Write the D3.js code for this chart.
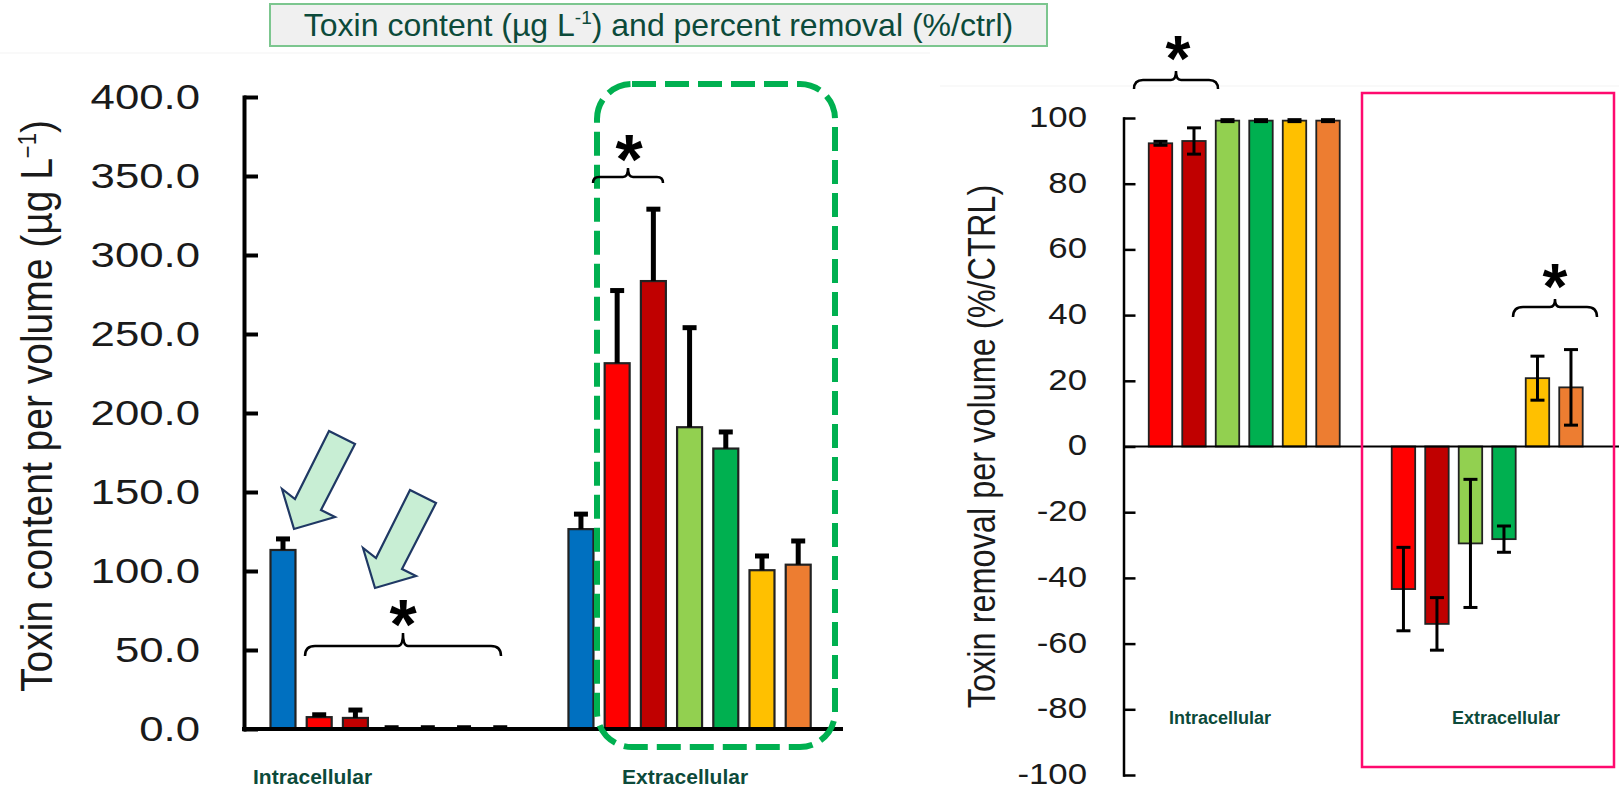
<!DOCTYPE html>
<html>
<head>
<meta charset="utf-8">
<script src="https://cdn.jsdelivr.net/npm/d3@7"></script>
<style>
body { margin: 0; background: #fff; }
svg { display: block; font-family: "Liberation Sans", Arial, sans-serif; }
</style>
</head>
<body>
<script>
// bar order of both panels (control only in the content panel)
var treatmentsContent = ["CTRL", "A1", "A2", "B1", "B2", "C1", "C2"];
var treatmentsRemoval = ["A1", "A2", "B1", "B2", "C1", "C2"];
var groups = ["Intracellular", "Extracellular"];
var barColors = {CTRL: "#0070c0", A1: "#ff0000", A2: "#c00000", B1: "#92d050", B2: "#00b050", C1: "#ffc000", C2: "#ed7d31"};

// toxin content per volume (ug/L), mean and SD
var contentIntra    = [113.3, 7.5, 7.0, 0.5, 0.5, 0.5, 0.5];
var contentIntraErr = [7.0, 1.5, 5.0, 0.3, 0.3, 0.3, 0.3];
var contentExtra    = [126.5, 231.5, 283.5, 191.0, 177.5, 100.5, 104.0];
var contentExtraErr = [9.5, 46.0, 45.5, 63.0, 10.5, 9.0, 15.0];
var contentTicks = [0, 50, 100, 150, 200, 250, 300, 350, 400];

// toxin removal per volume (%/CTRL), mean and SD
var removalIntra    = [92.3, 93.0, 99.2, 99.2, 99.2, 99.2];
var removalIntraErr = [0.6, 4.0, 0.3, 0.3, 0.3, 0.3];
var removalExtra    = [-43.4, -54.0, -29.5, -28.2, 20.8, 18.0];
var removalExtraErr = [12.7, 8.0, 19.5, 4.0, 6.7, 11.5];
var removalTicks = [-100, -80, -60, -40, -20, 0, 20, 40, 60, 80, 100];

var FONT = '"Liberation Sans", Arial, sans-serif';
var LABEL_GREEN = "#0c4a3a";

function build_rows(names, intra, intraErr, extra, extraErr)
{
    var rows = [];
    names.forEach(function(n, i) {
        rows.push({group: "Intracellular", name: n, value: intra[i], err: intraErr[i]});
    });
    names.forEach(function(n, i) {
        rows.push({group: "Extracellular", name: n, value: extra[i], err: extraErr[i]});
    });
    return rows;
}

var svg = d3.select("body").append("svg").attr("width", 1619).attr("height", 790);

// faint edges of the pasted pictures
svg.append("line").attr("x1", 0).attr("x2", 930).attr("y1", 53).attr("y2", 53).attr("stroke", "#f3f3f3");
svg.append("line").attr("x1", 940).attr("x2", 1619).attr("y1", 86).attr("y2", 86).attr("stroke", "#f3f3f3");

// title box
svg.append("rect").attr("x", 270).attr("y", 4).attr("width", 777).attr("height", 42)
    .attr("fill", "#f0f0f0").attr("stroke", "#7cc68f").attr("stroke-width", 2);
var title = svg.append("text").attr("x", 658.5).attr("y", 36).attr("text-anchor", "middle")
    .attr("font-size", 32).attr("fill", LABEL_GREEN);
title.append("tspan").text("Toxin content (µg L");
title.append("tspan").attr("dy", -12).attr("font-size", 19).text("-1");
title.append("tspan").attr("dy", 12).text(") and percent removal (%/ctrl)");

function draw_brace(g, x1, x2, y, hook, tip)
{
    var xm = (x1 + x2) / 2, r = 5;
    var d = "M" + x1 + "," + (y + hook) + " Q" + x1 + "," + y + " " + (x1 + hook) + "," + y +
        " L" + (xm - r) + "," + y + " Q" + xm + "," + y + " " + xm + "," + (y - tip) +
        " Q" + xm + "," + y + " " + (xm + r) + "," + y +
        " L" + (x2 - hook) + "," + y + " Q" + x2 + "," + y + " " + x2 + "," + (y + hook);
    g.append("path").attr("d", d).attr("fill", "none").attr("stroke", "#000").attr("stroke-width", 2.5);
}
function draw_star(g, cx, cy, size)
{
    // asterisk glyph sits about 0.58em above the baseline
    g.append("text").attr("x", cx).attr("y", cy + 0.58 * size).attr("text-anchor", "middle")
        .attr("font-size", size).attr("font-weight", "bold").attr("fill", "#000").text("*");
}

// ---------------- left panel : toxin content ----------------
var left = svg.append("g").attr("id", "content_panel");
var yL = d3.scaleLinear().domain([0, 400]).range([729, 97]);
var xGroupL = d3.scaleBand().domain(groups).range([270.5, 810.7]).paddingInner(0.187);
var xBarL = d3.scaleBand().domain(treatmentsContent).range([0, xGroupL.bandwidth()]).paddingInner(0.31);
var contentRows = build_rows(treatmentsContent, contentIntra, contentIntraErr, contentExtra, contentExtraErr);
function xl(d) { return xGroupL(d.group) + xBarL(d.name); }

left.selectAll("rect.bar").data(contentRows).enter().append("rect").attr("class", "bar")
    .attr("x", xl)
    .attr("y", function(d) { return yL(d.value); })
    .attr("width", xBarL.bandwidth())
    .attr("height", function(d) { return yL(0) - yL(d.value); })
    .attr("fill", function(d) { return barColors[d.name]; })
    .attr("stroke", "#222").attr("stroke-width", 2.2);

var errL = left.selectAll("g.err").data(contentRows).enter().append("g").attr("class", "err")
    .attr("transform", function(d) { return "translate(" + (xl(d) + xBarL.bandwidth() / 2) + ",0)"; });
errL.append("line").attr("x1", 0).attr("x2", 0)
    .attr("y1", function(d) { return yL(d.value); })
    .attr("y2", function(d) { return yL(d.value + d.err); })
    .attr("stroke", "#000").attr("stroke-width", 5);
errL.append("line").attr("x1", -7).attr("x2", 7)
    .attr("y1", function(d) { return yL(d.value + d.err); })
    .attr("y2", function(d) { return yL(d.value + d.err); })
    .attr("stroke", "#000").attr("stroke-width", 5);

// axes
var axisL = left.append("g").attr("transform", "translate(244,0)")
    .call(d3.axisLeft(yL).tickValues(contentTicks).tickFormat(d3.format(".1f")).tickSizeInner(-14).tickSizeOuter(0));
axisL.attr("font-family", FONT).attr("font-size", 35);
axisL.select(".domain").attr("stroke-width", 4).attr("stroke-linecap", "square");
axisL.selectAll(".tick line").attr("stroke-width", 4);
axisL.selectAll(".tick text").attr("fill", "#1a1a1a").attr("x", -44 / 1.25).attr("transform", "scale(1.25,1)");
left.append("line").attr("x1", 242).attr("x2", 843).attr("y1", yL(0)).attr("y2", yL(0))
    .attr("stroke", "#000").attr("stroke-width", 4);

var ylabL = left.append("text").attr("transform", "translate(52,406) scale(1.14,1) rotate(-90)")
    .attr("text-anchor", "middle").attr("font-size", 39).attr("fill", "#1a1a1a");
ylabL.append("tspan").text("Toxin content per volume (µg L");
ylabL.append("tspan").attr("dy", -14).attr("font-size", 22).text("\u22121");
ylabL.append("tspan").attr("dy", 14).text(")");

left.append("text").attr("x", 253).attr("y", 784).attr("font-size", 21).attr("font-weight", "bold")
    .attr("fill", LABEL_GREEN).text("Intracellular");
left.append("text").attr("x", 622).attr("y", 784).attr("font-size", 21).attr("font-weight", "bold")
    .attr("fill", LABEL_GREEN).text("Extracellular");

// annotations
left.append("rect").attr("x", 597).attr("y", 84).attr("width", 238).attr("height", 663)
    .attr("rx", 35).attr("ry", 35).attr("fill", "none")
    .attr("stroke", "#00b050").attr("stroke-width", 6).attr("stroke-dasharray", "24 9");

var arrowShape = [[0, 0], [-12, -40], [1, -30], [35, -98], [61, -85], [27, -19], [41, -12]];
[[294, 529], [375, 588]].forEach(function(tip) {
    left.append("polygon")
        .attr("points", arrowShape.map(function(p) { return (tip[0] + p[0]) + "," + (tip[1] + p[1]); }).join(" "))
        .attr("fill", "#c8eed4").attr("stroke", "#1f3864").attr("stroke-width", 2.2).attr("stroke-linejoin", "miter");
});
draw_brace(left, 305, 501, 646, 10, 13);
draw_star(left, 403, 608, 70);
draw_brace(left, 593, 663, 177, 6, 9);
draw_star(left, 629, 143, 70);

// ---------------- right panel : toxin removal ----------------
var right = svg.append("g").attr("id", "removal_panel");
var yR = d3.scaleLinear().domain([-100, 100]).range([775, 118]);
var xGroupR = d3.scaleBand().domain(groups).range([1148.75, 1582.7]).paddingInner(0.214);
var xBarR = d3.scaleBand().domain(treatmentsRemoval).range([0, xGroupR.bandwidth()]).paddingInner(0.3);
var removalRows = build_rows(treatmentsRemoval, removalIntra, removalIntraErr, removalExtra, removalExtraErr);
function xr(d) { return xGroupR(d.group) + xBarR(d.name); }

right.selectAll("rect.bar").data(removalRows).enter().append("rect").attr("class", "bar")
    .attr("x", xr)
    .attr("y", function(d) { return yR(Math.max(d.value, 0)); })
    .attr("width", xBarR.bandwidth())
    .attr("height", function(d) { return Math.abs(yR(d.value) - yR(0)); })
    .attr("fill", function(d) { return barColors[d.name]; })
    .attr("stroke", "#222").attr("stroke-width", 1.8);

var errR = right.selectAll("g.err").data(removalRows).enter().append("g").attr("class", "err")
    .attr("transform", function(d) { return "translate(" + (xr(d) + xBarR.bandwidth() / 2) + ",0)"; });
errR.append("line").attr("x1", 0).attr("x2", 0)
    .attr("y1", function(d) { return yR(d.value - d.err); })
    .attr("y2", function(d) { return yR(d.value + d.err); })
    .attr("stroke", "#000").attr("stroke-width", 3);
errR.selectAll("line.cap").data(function(d) { return [d.value - d.err, d.value + d.err]; })
    .enter().append("line").attr("class", "cap")
    .attr("x1", -7).attr("x2", 7)
    .attr("y1", function(v) { return yR(v); }).attr("y2", function(v) { return yR(v); })
    .attr("stroke", "#000").attr("stroke-width", 3);

var axisR = right.append("g").attr("transform", "translate(1123.5,0)")
    .call(d3.axisLeft(yR).tickValues(removalTicks).tickFormat(function(d) { return String(d); })
        .tickSizeInner(-12).tickSizeOuter(0));
axisR.attr("font-family", FONT).attr("font-size", 30);
axisR.select(".domain").attr("stroke-width", 2.5).attr("stroke-linecap", "square");
axisR.selectAll(".tick line").attr("stroke-width", 2.5);
axisR.selectAll(".tick text").attr("fill", "#1a1a1a").attr("dy", "0.28em")
    .attr("x", -36.5 / 1.16).attr("transform", "scale(1.16,1)");
right.append("line").attr("x1", 1123).attr("x2", 1619).attr("y1", yR(0)).attr("y2", yR(0))
    .attr("stroke", "#000").attr("stroke-width", 2);

right.append("text").attr("transform", "translate(995,446.5) scale(1.2,1) rotate(-90)")
    .attr("text-anchor", "middle").attr("font-size", 32.5).attr("fill", "#1a1a1a")
    .text("Toxin removal per volume (%/CTRL)");

right.append("text").attr("x", 1169).attr("y", 723.5).attr("font-size", 18).attr("font-weight", "bold")
    .attr("fill", LABEL_GREEN).text("Intracellular");
right.append("text").attr("x", 1452).attr("y", 723.5).attr("font-size", 18).attr("font-weight", "bold")
    .attr("fill", LABEL_GREEN).text("Extracellular");

right.append("rect").attr("x", 1362).attr("y", 93).attr("width", 252).attr("height", 674)
    .attr("fill", "none").attr("stroke", "#ff0a6e").attr("stroke-width", 2.5);

draw_brace(right, 1134, 1218, 80, 9, 9);
draw_star(right, 1178, 44, 64);
draw_brace(right, 1513, 1597, 307, 10, 8);
draw_star(right, 1555, 272, 64);
</script>
</body>
</html>
